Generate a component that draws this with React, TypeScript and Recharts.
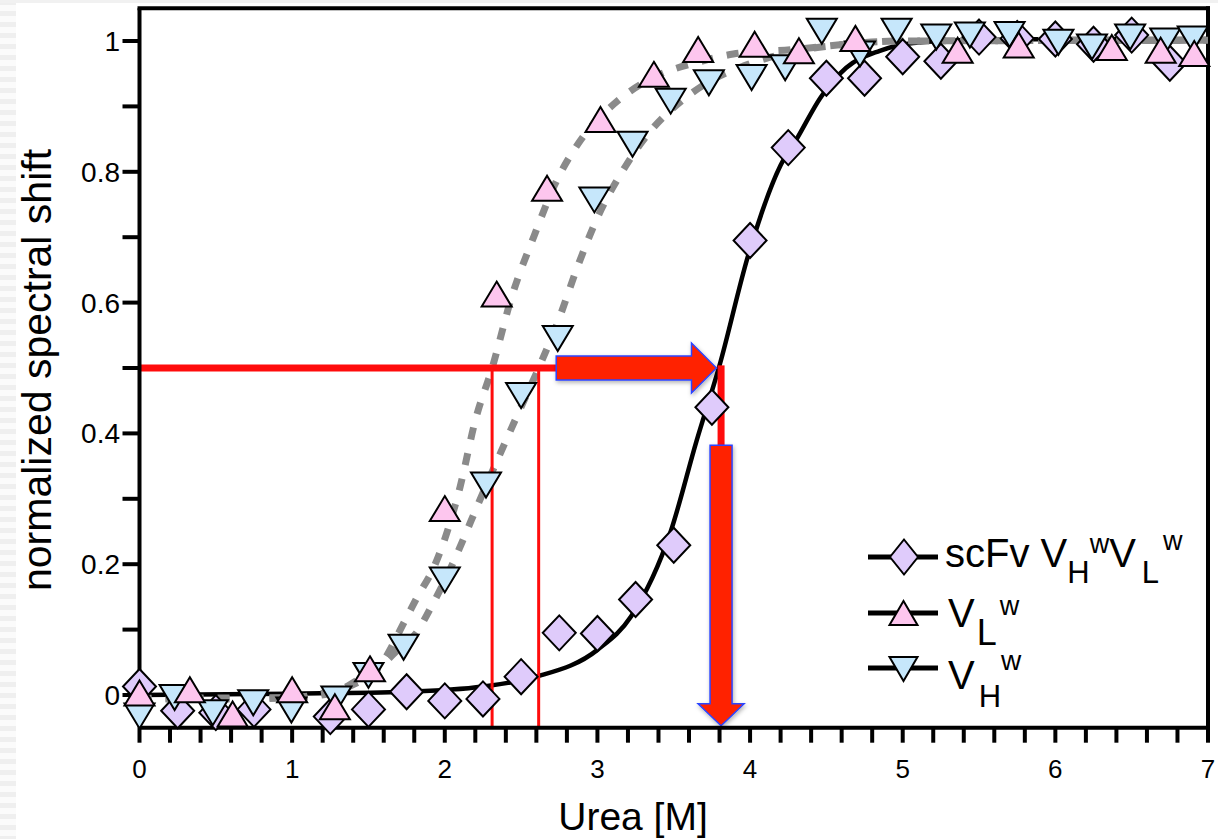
import React from 'react';
import {
  ComposedChart,
  Line,
  Scatter,
  XAxis,
  YAxis,
  ReferenceLine,
  Legend,
  Label,
} from 'recharts';

const FONT = '"Liberation Sans", Arial, Helvetica, sans-serif';

// scFv VH^w VL^w unfolding points (urea M -> normalized shift)
const scfvX = [0, 0.25, 0.5, 0.75, 1.25, 1.5, 1.75, 2, 2.25, 2.5, 2.75, 3, 3.25, 3.5, 3.75, 4, 4.25, 4.5, 4.75, 5, 5.25, 5.5, 5.75, 6, 6.25, 6.5, 6.75];
const scfvY = [0.013, -0.024, -0.027, -0.022, -0.033, -0.022, 0.005, -0.009, -0.006, 0.028, 0.095, 0.094, 0.146, 0.229, 0.44, 0.695, 0.837, 0.943, 0.943, 0.976, 0.969, 1.006, 1.004, 1.003, 0.995, 1.009, 0.966];

// VL^w
const vlX = [0, 0.33, 0.61, 1.0, 1.28, 1.51, 2.0, 2.34, 2.67, 3.02, 3.37, 3.66, 4.03, 4.32, 4.69, 5.36, 5.76, 6.37, 6.69, 6.91];
const vlY = [0.003, 0.008, -0.029, 0.008, -0.018, 0.04, 0.285, 0.613, 0.775, 0.88, 0.949, 0.987, 0.995, 0.985, 1.004, 0.986, 0.994, 0.99, 0.986, 0.981];

// VH^w
const vhX = [0, 0.23, 0.48, 0.745, 0.995, 1.29, 1.5, 1.73, 2.0, 2.27, 2.5, 2.74, 2.98, 3.23, 3.48, 3.73, 4.01, 4.23, 4.47, 4.72, 4.96, 5.22, 5.44, 5.7, 6.02, 6.24, 6.49, 6.72, 6.9];
const vhY = [-0.032, -0.004, -0.027, -0.012, -0.023, -0.006, 0.03, 0.073, 0.176, 0.321, 0.458, 0.545, 0.757, 0.842, 0.908, 0.936, 0.944, 0.959, 1.015, 0.98, 1.015, 1.006, 1.009, 1.01, 0.998, 0.991, 1.006, 1.0, 1.003];

// two-state fits, sampled along each curve
const scfvFitX = [0, 1, 1.75, 2.25, 2.6, 3.0, 3.22, 3.48, 3.65, 3.8, 3.99, 4.2, 4.31, 4.46, 4.63, 4.85, 5.07, 5.5, 6, 7];
const scfvFitY = [0, 0.002, 0.005, 0.013, 0.028, 0.069, 0.12, 0.25, 0.389, 0.504, 0.674, 0.81, 0.852, 0.913, 0.959, 0.985, 0.997, 1.002, 1.003, 1.003];

const vlFitX = [0, 0.6, 1.0, 1.24, 1.42, 1.57, 1.74, 1.82, 1.93, 2.1, 2.2, 2.31, 2.44, 2.59, 2.72, 2.92, 3.13, 3.39, 3.65, 3.89, 4.28, 4.63, 4.98, 7];
const vlFitY = [-0.006, -0.006, -0.004, 0.005, 0.018, 0.043, 0.114, 0.15, 0.196, 0.318, 0.42, 0.5, 0.61, 0.705, 0.78, 0.858, 0.908, 0.947, 0.967, 0.98, 0.987, 0.995, 1.0, 1.001];

const vhFitX = [0, 1.0, 1.26, 1.43, 1.59, 1.7, 1.82, 1.9, 2.0, 2.27, 2.47, 2.615, 2.74, 2.87, 3.0, 3.18, 3.35, 3.55, 3.74, 3.96, 4.31, 4.63, 5.0, 7];
const vhFitY = [-0.005, -0.004, 0.003, 0.023, 0.046, 0.071, 0.097, 0.13, 0.175, 0.32, 0.425, 0.5, 0.57, 0.655, 0.73, 0.807, 0.863, 0.908, 0.939, 0.962, 0.985, 0.995, 1.0, 1.001];

// transition midpoints [M]
const midVL = 2.31;
const midVH = 2.615;
const midScfv = 3.81;
const halfLevel = 0.5;
const arrowStartX = 2.73;
const arrowEndX = 3.78;
const downArrowTopY = 0.382;
const downArrowTipY = -0.047;

const xMajorTicks = [0, 1, 2, 3, 4, 5, 6, 7];
const yMajorTicks = [0, 0.2, 0.4, 0.6, 0.8, 1];
const yTickLabels = ['0', '0.2', '0.4', '0.6', '0.8', '1'];
const xMinorTicks = Array.from({ length: 36 }, (_, i) => Math.round(i * 2) / 10);
const yMinorTicks = Array.from({ length: 11 }, (_, i) => i / 10);

const seriesNames = ['scFv VHwVLw', 'VLw', 'VHw'];

const toPoints = (xs: number[], ys: number[]) => xs.map((x, i) => ({ x, y: ys[i] }));

const scfvPoints = toPoints(scfvX, scfvY);
const vlPoints = toPoints(vlX, vlY);
const vhPoints = toPoints(vhX, vhY);
const scfvFit = toPoints(scfvFitX, scfvFitY);
const vlFit = toPoints(vlFitX, vlFitY);
const vhFit = toPoints(vhFitX, vhFitY);

const DIAMOND_FILL = '#dfcbfb';
const UP_FILL = '#fdc6ee';
const DOWN_FILL = '#c6e7fb';
const RED = '#ff0c0c';
const ARROW_FILL = '#ff2400';
const ARROW_EDGE = '#2b45ff';

const diamondPath = (cx: number, cy: number, hw: number, hh: number) =>
  `M${cx},${cy - hh} L${cx + hw},${cy} L${cx},${cy + hh} L${cx - hw},${cy} Z`;
const upPath = (cx: number, cy: number, hw: number, h: number) =>
  `M${cx},${cy - h / 2} L${cx + hw},${cy + h / 2} L${cx - hw},${cy + h / 2} Z`;
const downPath = (cx: number, cy: number, hw: number, h: number) =>
  `M${cx - hw},${cy - h / 2} L${cx + hw},${cy - h / 2} L${cx},${cy + h / 2} Z`;

const DiamondDot = (p: any) => (
  <path d={diamondPath(p.cx, p.cy, 16.5, 17.5)} fill={DIAMOND_FILL} stroke="#000" strokeWidth={2} />
);
const UpDot = (p: any) => (
  <path d={upPath(p.cx, p.cy, 15, 25)} fill={UP_FILL} stroke="#000" strokeWidth={2} strokeLinejoin="miter" />
);
const DownDot = (p: any) => (
  <path d={downPath(p.cx, p.cy, 15, 25)} fill={DOWN_FILL} stroke="#000" strokeWidth={2} strokeLinejoin="miter" />
);

const XTick = ({ x, payload }: any) => {
  const v = payload.value;
  const major = xMajorTicks.find((t) => Math.abs(t - v) < 1e-6);
  if (major === undefined) return <g />;
  return (
    <text x={x} y={778} textAnchor="middle" fontSize={26} fontFamily={FONT} fill="#000">
      {String(major)}
    </text>
  );
};

const YTick = ({ y, payload }: any) => {
  const v = payload.value;
  const idx = yMajorTicks.findIndex((t) => Math.abs(t - v) < 1e-6);
  if (idx < 0) return <g />;
  return (
    <text x={120} y={y + 10} textAnchor="end" fontSize={28} fontFamily={FONT} fill="#000">
      {yTickLabels[idx]}
    </text>
  );
};

const ArrowShadow = () => (
  <defs>
    <filter id="arrowShadow" x="-20%" y="-20%" width="140%" height="140%">
      <feDropShadow dx="1" dy="2" stdDeviation="2" floodColor="#000" floodOpacity="0.3" />
    </filter>
  </defs>
);

// block arrow pointing right, along the segment's endpoints
const RightArrow = ({ x1, y1, x2 }: any) => {
  const sh = 12;
  const hh = 25;
  const hl = 25;
  const d = `M${x1},${y1 - sh} L${x2 - hl},${y1 - sh} L${x2 - hl},${y1 - hh} L${x2},${y1} L${x2 - hl},${y1 + hh} L${x2 - hl},${y1 + sh} L${x1},${y1 + sh} Z`;
  return (
    <g>
      <ArrowShadow />
      <path d={d} fill={ARROW_FILL} stroke={ARROW_EDGE} strokeWidth={1.5} filter="url(#arrowShadow)" />
    </g>
  );
};

// block arrow pointing down
const DownArrow = ({ x1, y1, y2 }: any) => {
  const sw = 11;
  const hw = 23;
  const hl = 22;
  const d = `M${x1 - sw},${y1} L${x1 + sw},${y1} L${x1 + sw},${y2 - hl} L${x1 + hw},${y2 - hl} L${x1},${y2} L${x1 - hw},${y2 - hl} L${x1 - sw},${y2 - hl} Z`;
  return <path d={d} fill={ARROW_FILL} stroke={ARROW_EDGE} strokeWidth={1.5} filter="url(#arrowShadow)" />;
};

const LegendBox = () => (
  <svg width={340} height={180} style={{ overflow: 'visible' }}>
    <g transform="translate(-860,-525)" fontFamily={FONT} fill="#000">
      <line x1={868} x2={938} y1={557} y2={557} stroke="#000" strokeWidth={5} />
      <path d={diamondPath(904, 557, 14, 17.5)} fill={DIAMOND_FILL} stroke="#000" strokeWidth={2} />
      <text x={945} y={567} fontSize={40}>
        scFv V
        <tspan fontSize={31} dy={16}>H</tspan>
        <tspan fontSize={27} dy={-30}>w</tspan>
        <tspan fontSize={40} dy={14}>V</tspan>
        <tspan fontSize={31} dx={6} dy={16}>L</tspan>
        <tspan fontSize={27} dx={4} dy={-33}>w</tspan>
      </text>

      <line x1={868} x2={938} y1={613} y2={613} stroke="#000" strokeWidth={5} />
      <path d={upPath(903.5, 613, 14, 24)} fill={UP_FILL} stroke="#000" strokeWidth={2} />
      <text x={948} y={627} fontSize={40}>
        V
        <tspan fontSize={36} dx={2} dy={18}>L</tspan>
        <tspan fontSize={27} dx={3} dy={-30}>w</tspan>
      </text>

      <line x1={868} x2={938} y1={668} y2={668} stroke="#000" strokeWidth={5} />
      <path d={downPath(903.5, 669, 14, 24)} fill={DOWN_FILL} stroke="#000" strokeWidth={2} />
      <text x={948} y={689} fontSize={40}>
        V
        <tspan fontSize={31} dx={4} dy={18}>H</tspan>
        <tspan fontSize={28} dy={-37}>w</tspan>
      </text>
    </g>
  </svg>
);

export default function App() {
  return (
    <div style={{ position: 'absolute', left: 0, top: 0, width: 1218, height: 839, background: '#fff' }}>
      <div
        style={{
          position: 'absolute',
          left: 0,
          top: 0,
          width: 16,
          height: 839,
          background: 'repeating-linear-gradient(to bottom, #efefef 0px, #efefef 5px, #fbfbfb 5px, #fbfbfb 11px)',
        }}
      />
      <div style={{ position: 'absolute', left: 0, top: 0, width: 1218, height: 3, background: '#f1f1f1' }} />
      <div style={{ position: 'absolute', left: 0, top: 0 }}>
        <ComposedChart width={1218} height={839} margin={{ top: 8.3, right: 10, bottom: 81.3, left: 79.5 }}>
          <XAxis
            type="number"
            dataKey="x"
            domain={[0, 7]}
            ticks={xMinorTicks}
            interval={0}
            height={30}
            tickSize={15}
            axisLine={{ stroke: '#000', strokeWidth: 4 }}
            tickLine={{ stroke: '#000', strokeWidth: 4 }}
            tick={<XTick />}
          >
            <Label
              content={() => (
                <text x={633} y={830} textAnchor="middle" fontSize={39} fontFamily={FONT} fill="#000">
                  Urea [M]
                </text>
              )}
            />
          </XAxis>
          <YAxis
            type="number"
            domain={[-0.05, 1.05]}
            ticks={yMinorTicks}
            interval={0}
            width={60}
            tickSize={17}
            axisLine={{ stroke: '#000', strokeWidth: 4 }}
            tickLine={{ stroke: '#000', strokeWidth: 4 }}
            tick={<YTick />}
          >
            <Label
              content={() => (
                <text
                  x={51}
                  y={370}
                  transform="rotate(-90, 51, 370)"
                  textAnchor="middle"
                  fontSize={41}
                  fontFamily={FONT}
                  fill="#000"
                >
                  normalized spectral shift
                </text>
              )}
            />
          </YAxis>

          {/* closing frame on top and right */}
          <ReferenceLine y={1.05} stroke="#000" strokeWidth={4} strokeLinecap="square" />
          <ReferenceLine x={7} stroke="#000" strokeWidth={4} strokeLinecap="square" />

          <Scatter name={seriesNames[0]} data={scfvPoints} dataKey="y" shape={DiamondDot} isAnimationActive={false} />
          <Scatter name={seriesNames[2]} data={vhPoints} dataKey="y" shape={DownDot} isAnimationActive={false} />
          <Scatter name={seriesNames[1]} data={vlPoints} dataKey="y" shape={UpDot} isAnimationActive={false} />

          <Line data={scfvFit} dataKey="y" type="monotone" stroke="#000" strokeWidth={4.5} dot={false} activeDot={false} isAnimationActive={false} legendType="none" />
          <Line data={vlFit} dataKey="y" type="monotone" stroke="#8a8a8a" strokeWidth={7} strokeDasharray="12 14" dot={false} activeDot={false} isAnimationActive={false} legendType="none" />
          <Line data={vhFit} dataKey="y" type="monotone" stroke="#8a8a8a" strokeWidth={7} strokeDasharray="12 14" dot={false} activeDot={false} isAnimationActive={false} legendType="none" />

          {/* half-unfolding guides */}
          <ReferenceLine segment={[{ x: 0, y: halfLevel }, { x: arrowStartX, y: halfLevel }]} stroke={RED} strokeWidth={7} />
          <ReferenceLine segment={[{ x: midVL, y: -0.05 }, { x: midVL, y: halfLevel }]} stroke={RED} strokeWidth={3} />
          <ReferenceLine segment={[{ x: midVH, y: -0.05 }, { x: midVH, y: halfLevel }]} stroke={RED} strokeWidth={3} />
          <ReferenceLine segment={[{ x: midScfv, y: halfLevel + 0.004 }, { x: midScfv, y: downArrowTopY }]} stroke={RED} strokeWidth={7} />
          <ReferenceLine segment={[{ x: arrowStartX, y: halfLevel }, { x: arrowEndX, y: halfLevel }]} shape={RightArrow} />
          <ReferenceLine segment={[{ x: midScfv, y: downArrowTopY }, { x: midScfv, y: downArrowTipY }]} shape={DownArrow} />

          <Legend
            layout="horizontal"
            verticalAlign="middle"
            align="center"
            wrapperStyle={{ position: 'absolute', left: 860, top: 525, width: 340, height: 180 }}
            content={() => <LegendBox />}
          />
        </ComposedChart>
      </div>
    </div>
  );
}
